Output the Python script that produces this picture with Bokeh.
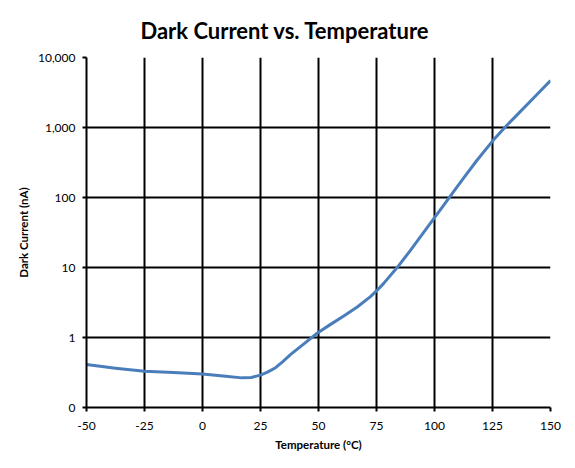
from bokeh.plotting import figure
from bokeh.models import FixedTicker
from bokeh.embed import file_html
from bokeh.resources import INLINE

# temperature (degC) and dark current (nA)
temp = [-50, -37.5, -25, -12.5, 0, 10, 17, 21, 25, 28, 31.5, 34.5, 37.9, 43.7, 49.4, 55.2, 60.9,
        66.7, 72.4, 76.0, 78.1, 83.9, 89.7, 95.4, 99.7, 104.0, 108.3, 112.6, 118.4,
        125.0, 129.9, 135.6, 142.8, 150]
dark = [0.41, 0.365, 0.33, 0.315, 0.30, 0.28, 0.265, 0.268, 0.29, 0.32, 0.37, 0.45, 0.57, 0.81, 1.15, 1.54, 2.03,
        2.73, 3.84, 5.0, 5.93, 9.98, 17.7, 32, 50, 78, 122, 191, 343,
        640, 970, 1517, 2667, 4690]

x_ticks = [-50, -25, 0, 25, 50, 75, 100, 125, 150]
x_labels = ["-50", "-25", "0", "25", "50", "75", "100", "125", "150"]
y_ticks = [0.1, 1, 10, 100, 1000, 10000]
y_labels = ["0", "1", "10", "100", "1,000", "10,000"]

FONT = "Lato"

p = figure(
    width=575, height=468,
    frame_width=464, frame_height=350,
    x_range=(-50, 150), y_range=(0.1, 10000),
    y_axis_type="log",
    x_axis_label="Temperature (°C)",
    y_axis_label="Dark Current (nA)",
    title="Dark Current vs. Temperature",
    toolbar_location=None,
    output_backend="svg",
)
p.min_border_left = 86
p.min_border_top = 56
p.min_border_right = 25
p.min_border_bottom = 62
p.outline_line_color = None

p.title.text_font = FONT
p.title.text_font_size = "22px"
p.title.text_font_style = "bold"
p.title.text_color = "black"
p.title.align = "left"
p.title.offset = 54
p.title.standoff = 28

p.line(temp, dark, line_color="#4A7EBB", line_width=3, line_join="round")

p.xaxis.ticker = FixedTicker(ticks=x_ticks)
p.xaxis.major_label_overrides = {t: lab for t, lab in zip(x_ticks, x_labels)}
p.yaxis.ticker = FixedTicker(ticks=y_ticks)
p.yaxis.major_label_overrides = {t: lab for t, lab in zip(y_ticks, y_labels)}

for ax in (p.xaxis, p.yaxis):
    ax.axis_line_color = "black"
    ax.axis_line_width = 2
    ax.major_tick_line_color = "black"
    ax.major_tick_line_width = 2
    ax.major_tick_in = 0
    ax.major_tick_out = 4
    ax.minor_tick_line_color = None
    ax.major_label_text_font = FONT
    ax.major_label_text_font_size = "12px"
    ax.major_label_text_color = "black"
    ax.axis_label_text_font = FONT
    ax.axis_label_text_font_size = "11.5px"
    ax.axis_label_text_font_style = "bold"
    ax.axis_label_text_color = "black"

p.xaxis.major_label_standoff = 10
p.xaxis.axis_label_standoff = 5
p.yaxis.major_label_standoff = 7
p.yaxis.axis_label_standoff = 5

p.xgrid.ticker = FixedTicker(ticks=x_ticks)
p.ygrid.ticker = FixedTicker(ticks=y_ticks)
for g in (p.xgrid, p.ygrid):
    g.grid_line_color = "black"
    g.grid_line_width = 2
    g.grid_line_alpha = 1.0

open("out.html", "w").write(file_html(p, INLINE))
